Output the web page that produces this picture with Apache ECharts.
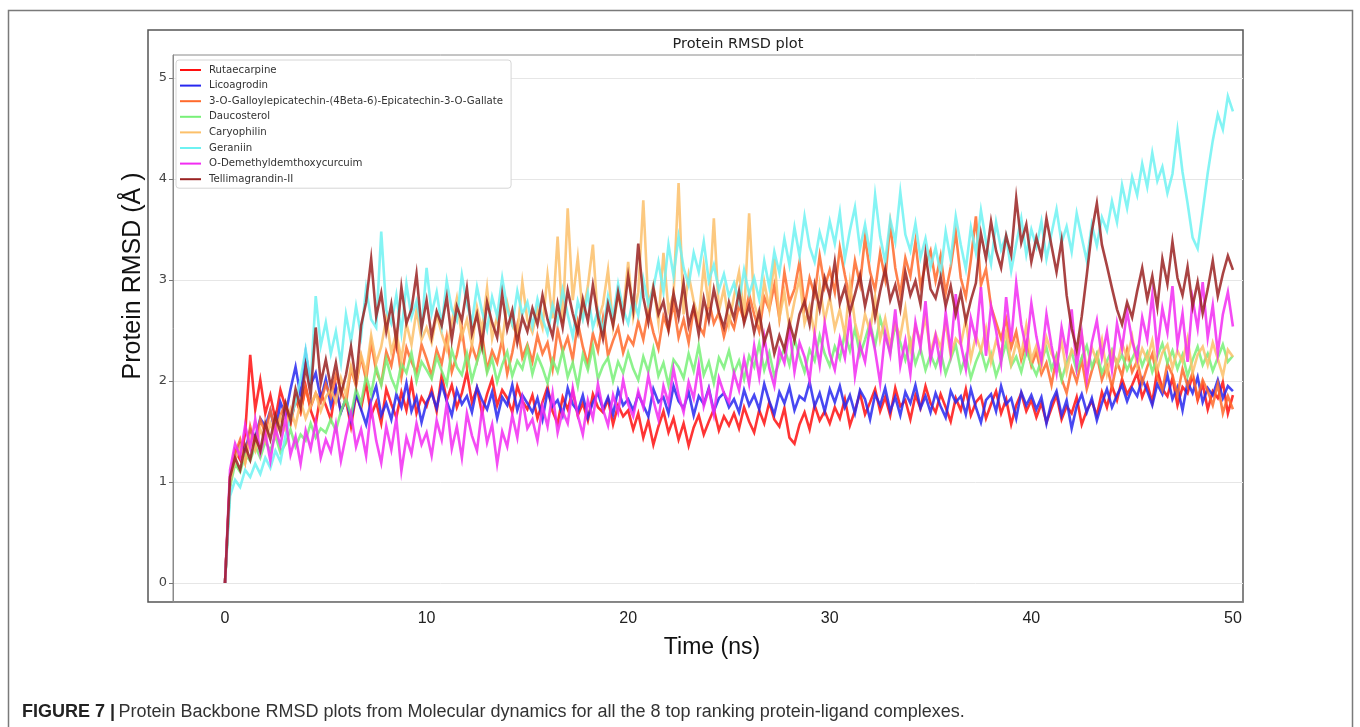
<!DOCTYPE html>
<html>
<head>
<meta charset="UTF-8">
<title>Protein RMSD plot</title>
<script type="text/javascript" src="https://cdn.jsdelivr.net/npm/echarts@6/dist/echarts.min.js"></script>
<style>
  html, body { margin: 0; padding: 0; background: #fff; }
  #rmsd { width: 1360px; height: 727px; }
</style>
</head>
<body>
<div id="rmsd"></div>
<script type="text/javascript">
// frames are read every 0.25 ns, from 0 to 50 ns
var timeStepNs = 0.25;
var xTicks = [0, 10, 20, 30, 40, 50];
var yTicks = [0, 1, 2, 3, 4, 5];

var names = ['Rutaecarpine', 'Licoagrodin', '3-O-Galloylepicatechin-(4Beta-6)-Epicatechin-3-O-Gallate',
  'Daucosterol', 'Caryophilin', 'Geraniin', 'O-Demethyldemthoxycurcuim', 'Tellimagrandin-II'];
var colors = ['#ff1010', '#2828f0', '#ff6a2c', '#78f078', '#fcc06a', '#6ef2f2', '#f22cf2', '#9a2222'];

var rutaecarpine = [0,
  1.02,1.31,1.22,1.48,2.26,1.72,2.01,1.68,1.86,1.62,1.91,1.74,1.58,1.83,1.69,1.95,1.71,1.57,1.88,1.76,
  1.62,1.94,1.70,1.81,1.55,1.86,1.73,1.98,1.66,1.79,1.58,1.92,1.77,1.64,1.89,1.71,1.99,1.68,1.84,1.75,
  1.92,1.70,2.06,1.81,1.96,1.74,1.88,2.09,1.79,1.93,1.68,1.87,2.02,1.76,1.91,1.83,1.69,1.95,1.80,1.72,
  1.86,1.63,1.79,1.94,1.70,1.58,1.84,1.72,1.90,1.66,1.78,1.61,1.87,1.74,1.69,1.82,1.57,1.76,1.65,1.71,
  1.52,1.68,1.44,1.61,1.37,1.55,1.70,1.49,1.63,1.42,1.58,1.36,1.54,1.66,1.47,1.60,1.72,1.51,1.65,1.56,
  1.68,1.53,1.74,1.60,1.49,1.71,1.58,1.79,1.62,1.55,1.73,1.44,1.38,1.57,1.69,1.52,1.76,1.61,1.70,1.58,
  1.74,1.63,1.82,1.56,1.71,1.88,1.67,1.79,1.92,1.70,1.84,1.66,1.93,1.75,1.81,1.62,1.86,1.73,1.95,1.78,
  1.69,1.87,1.74,1.60,1.83,1.71,1.92,1.66,1.79,1.85,1.63,1.77,1.90,1.68,1.82,1.57,1.76,1.88,1.70,1.81,
  1.64,1.78,1.59,1.73,1.86,1.62,1.75,1.68,1.84,1.57,1.71,1.80,1.66,1.89,1.74,1.95,1.81,2.02,1.87,1.96,
  2.08,1.84,1.97,1.79,2.11,1.92,1.85,2.03,1.76,1.94,1.88,2.06,1.81,1.97,1.72,1.90,1.83,1.99,1.68,1.86];

var licoagrodin = [0,
  0.98,1.25,1.38,1.30,1.52,1.44,1.63,1.55,1.71,1.48,1.79,1.66,1.92,2.14,1.85,2.28,1.96,2.08,1.82,2.02,
  1.76,1.94,1.69,1.83,1.61,1.88,1.72,1.57,1.81,1.95,1.66,1.78,1.62,1.87,1.74,1.98,1.70,1.84,1.59,1.79,
  1.88,1.73,1.97,1.80,1.66,1.91,1.77,1.85,1.69,1.94,1.81,1.72,1.89,1.63,1.84,1.76,1.96,1.71,1.86,1.78,
  1.69,1.83,1.62,1.90,1.75,1.81,1.66,1.93,1.77,1.70,1.86,1.64,1.79,1.88,1.72,1.84,1.67,1.91,1.76,1.82,
  1.71,1.87,1.76,1.65,1.92,1.79,1.84,1.68,1.95,1.80,1.73,1.89,1.66,1.85,1.77,1.93,1.70,1.83,1.88,1.74,
  1.82,1.69,1.91,1.76,1.86,1.72,1.97,1.80,1.67,1.89,1.78,1.94,1.71,1.85,1.81,1.99,1.75,1.88,1.70,1.92,
  1.79,1.95,1.74,1.86,1.68,1.91,1.82,1.62,1.87,1.76,1.93,1.70,1.84,1.66,1.89,1.78,1.96,1.73,1.85,1.69,
  1.88,1.75,1.64,1.90,1.79,1.85,1.67,1.92,1.74,1.59,1.81,1.87,1.70,1.95,1.77,1.83,1.63,1.89,1.76,1.86,
  1.72,1.84,1.58,1.79,1.90,1.66,1.81,1.53,1.75,1.87,1.69,1.83,1.61,1.78,1.92,1.74,1.86,1.96,1.80,1.93,
  1.85,2.02,1.90,1.76,1.97,1.87,2.06,1.82,1.94,1.71,1.99,1.88,2.04,1.79,1.93,1.86,2.01,1.83,1.95,1.90];

var galloylepicatechin = [0,
  1.05,1.28,1.42,1.20,1.55,1.36,1.62,1.48,1.71,1.50,1.66,1.78,1.58,1.82,1.69,1.93,1.74,1.88,1.79,1.97,
  1.84,2.06,1.91,1.78,2.12,1.95,2.24,2.01,2.38,2.10,1.97,2.29,2.15,2.42,2.04,2.33,2.19,2.08,2.36,2.22,
  2.05,2.31,2.17,2.44,2.09,2.26,2.52,2.14,2.35,2.20,2.47,2.11,2.30,2.18,2.41,2.07,2.28,2.55,2.23,2.36,
  2.19,2.45,2.27,2.38,2.12,2.51,2.29,2.43,2.21,2.58,2.34,2.16,2.47,2.30,2.62,2.25,2.40,2.53,2.28,2.44,
  2.36,2.59,2.41,2.70,2.48,2.32,2.64,2.50,2.77,2.43,2.61,2.38,2.72,2.55,2.46,2.80,2.57,2.68,2.44,2.63,
  2.52,2.75,2.60,2.86,2.66,2.49,2.83,2.71,2.95,2.62,3.08,2.78,2.91,3.18,2.74,3.02,2.85,3.24,2.93,3.10,
  2.88,3.32,3.05,2.81,3.19,2.96,3.42,3.08,2.90,3.27,3.01,3.55,3.12,2.86,3.22,3.04,3.38,2.94,3.15,3.29,
  2.99,3.24,2.87,3.13,3.47,3.02,2.83,3.20,3.63,2.95,3.11,2.74,2.58,2.42,2.61,2.33,2.49,2.21,2.38,2.15,
  2.29,2.07,2.18,1.96,2.24,2.02,1.88,2.13,1.99,2.21,1.92,2.10,2.26,2.01,2.15,1.94,2.19,2.05,2.31,2.09,
  2.20,1.98,2.14,2.27,2.03,1.91,2.17,2.06,1.86,2.12,1.95,2.08,1.83,2.01,1.90,1.76,1.97,1.68,1.85,1.72];

var daucosterol = [0,
  0.95,1.18,1.10,1.27,1.21,1.36,1.24,1.40,1.31,1.46,1.29,1.38,1.52,1.35,1.47,1.41,1.58,1.44,1.53,1.49,
  1.62,1.51,1.70,1.83,1.66,1.92,1.78,2.05,1.87,2.14,1.96,2.22,2.03,1.91,2.17,2.08,2.28,2.00,2.19,2.11,
  2.02,2.24,2.10,1.97,2.31,2.14,2.06,2.27,2.01,2.19,2.36,2.08,2.22,1.99,2.16,2.29,2.05,2.20,2.12,2.33,
  2.07,2.25,2.13,1.98,2.21,2.09,2.30,2.04,2.18,1.95,2.26,2.11,2.34,2.02,2.15,2.23,2.00,2.19,2.08,2.28,
  2.12,2.01,2.24,2.09,2.32,2.05,2.18,1.96,2.21,2.14,2.03,2.27,2.10,2.35,2.06,2.19,1.98,2.23,2.13,2.30,
  2.08,2.20,2.02,2.25,2.14,2.37,2.11,2.28,2.05,2.19,2.33,2.16,2.42,2.24,2.09,2.31,2.20,2.45,2.27,2.15,
  2.34,2.22,2.47,2.30,2.52,2.26,2.41,2.58,2.35,2.62,2.44,2.29,2.55,2.38,2.21,2.40,2.17,2.32,2.11,2.26,
  2.14,2.29,2.07,2.22,2.36,2.10,2.25,2.03,2.19,2.31,2.12,2.27,2.05,2.20,2.38,2.15,2.24,2.09,2.30,2.17,
  2.06,2.21,2.33,2.12,2.25,2.01,2.18,2.29,2.10,2.23,2.35,2.14,2.27,2.08,2.20,2.31,2.16,2.26,2.11,2.22,
  2.33,2.15,2.28,2.09,2.24,2.37,2.18,2.30,2.12,2.26,2.05,2.21,2.34,2.16,2.27,2.10,2.23,2.36,2.19,2.25];

var caryophilin = [0,
  1.00,1.22,1.35,1.19,1.44,1.31,1.52,1.40,1.58,1.45,1.64,1.51,1.72,1.56,1.80,1.63,1.76,1.88,1.70,1.84,
  1.92,1.79,2.03,1.86,2.15,1.97,2.26,2.08,2.45,2.18,2.34,2.62,2.29,2.48,2.21,2.57,2.36,2.70,2.41,2.53,
  2.38,2.66,2.47,2.31,2.58,2.82,2.44,2.61,2.35,2.73,2.50,2.92,2.42,2.64,2.39,2.77,2.55,2.46,2.98,2.60,
  2.48,2.71,2.53,3.05,2.62,3.43,2.57,3.71,2.80,3.22,2.66,2.94,3.35,2.59,2.76,3.10,2.54,2.85,2.68,3.18,
  2.63,2.88,3.79,2.74,2.95,2.58,3.27,2.70,2.86,3.96,2.66,3.05,2.79,2.61,3.14,2.73,3.61,2.69,2.92,2.56,
  2.84,3.08,2.65,3.66,2.77,2.59,2.98,2.71,3.21,2.62,2.88,2.53,2.79,3.02,2.57,2.74,2.46,2.95,2.60,2.83,
  2.52,2.71,2.45,2.97,2.58,2.38,2.66,2.49,2.83,2.41,2.62,2.35,2.57,2.44,2.72,2.31,2.54,2.39,2.63,2.28,
  2.47,2.33,2.58,2.25,2.42,2.36,2.61,2.22,2.45,2.30,2.52,2.19,2.40,2.28,2.49,2.17,2.38,2.26,2.55,2.21,
  2.35,2.14,2.43,2.27,2.18,2.39,2.09,2.31,2.24,2.46,2.12,2.33,2.20,2.41,2.07,2.29,2.16,2.37,2.23,2.44,
  2.15,2.32,2.21,2.40,2.11,2.28,2.36,2.13,2.30,2.19,2.42,2.08,2.26,2.34,2.16,2.38,2.22,2.05,2.31,2.24];

var geraniin = [0,
  0.86,1.02,0.95,1.12,1.05,1.18,1.08,1.24,1.14,1.31,1.20,1.46,1.63,1.79,2.02,2.31,1.98,2.84,2.35,2.58,
  2.27,2.49,2.18,2.66,2.39,2.74,2.45,2.92,2.61,2.53,3.48,2.70,2.57,2.85,2.48,2.96,2.63,2.79,2.52,3.12,
  2.67,2.88,2.55,2.99,2.71,2.60,3.05,2.76,2.58,2.93,2.69,2.51,2.83,2.64,3.02,2.72,2.56,2.89,2.66,2.78,
  2.54,2.81,2.62,2.47,2.75,2.58,2.90,2.66,2.44,2.79,2.61,2.87,2.53,2.70,2.49,2.84,2.63,2.96,2.71,2.57,
  2.82,2.65,3.01,2.76,2.92,3.18,2.88,3.35,3.04,3.43,3.12,2.95,3.27,3.08,3.38,2.99,3.15,2.90,3.06,2.84,
  2.97,2.78,3.10,2.86,3.02,2.81,3.19,2.93,3.28,3.07,3.41,3.15,3.52,3.24,3.63,3.33,3.18,3.47,3.29,3.58,
  3.36,3.67,3.21,3.49,3.72,3.31,3.55,3.26,3.84,3.43,3.18,3.60,3.38,3.87,3.45,3.29,3.56,3.22,3.41,3.13,
  3.32,3.06,3.48,3.20,3.63,3.35,3.11,3.52,3.27,3.69,3.38,3.16,3.57,3.30,3.44,3.09,3.36,3.61,3.25,3.50,
  3.33,3.58,3.21,3.46,3.70,3.37,3.53,3.28,3.66,3.42,3.19,3.55,3.34,3.62,3.49,3.78,3.57,3.94,3.71,4.02,
  3.84,4.15,3.92,4.26,3.98,4.12,3.86,4.05,4.48,4.07,3.76,3.42,3.31,3.68,4.06,4.38,4.64,4.49,4.82,4.67];

var demethyldemthoxycurcuim = [0,
  1.12,1.38,1.25,1.56,1.34,1.62,1.29,1.48,1.21,1.53,1.36,1.64,1.27,1.45,1.18,1.51,1.33,1.59,1.24,1.42,
  1.30,1.57,1.21,1.46,1.68,1.35,1.52,1.26,1.74,1.41,1.19,1.55,1.32,1.63,1.11,1.44,1.28,1.58,1.37,1.49,
  1.26,1.61,1.42,1.78,1.33,1.55,1.24,1.68,1.46,1.31,1.72,1.39,1.57,1.18,1.50,1.35,1.66,1.44,1.82,1.53,
  1.62,1.41,1.75,1.55,1.88,1.49,1.70,1.58,1.93,1.66,1.47,1.81,1.63,1.97,1.72,1.56,1.86,1.69,2.01,1.77,
  1.65,1.90,1.74,2.05,1.81,1.62,1.95,1.78,2.12,1.86,1.69,1.99,1.83,2.16,1.75,1.92,1.67,2.03,1.88,1.79,
  2.08,1.91,2.22,1.97,2.35,2.04,2.44,2.13,1.95,2.31,2.18,2.52,2.09,2.38,2.24,2.01,2.46,2.16,2.57,2.27,
  2.11,2.42,2.23,2.64,2.05,2.36,2.19,2.55,2.30,1.98,2.48,2.26,2.71,2.15,2.40,2.07,2.58,2.33,2.79,2.21,
  2.45,2.14,2.68,2.29,2.86,2.37,2.12,2.62,2.41,2.93,2.25,2.74,2.50,2.18,2.83,2.39,2.97,2.56,2.31,2.77,
  2.44,2.20,2.66,2.35,2.08,2.53,2.27,2.71,2.14,2.47,2.02,2.38,2.60,2.23,2.49,2.11,2.57,2.32,2.69,2.40,
  2.22,2.63,2.41,2.85,2.30,2.72,2.48,2.94,2.36,2.67,2.19,2.81,2.52,2.98,2.43,2.75,2.28,2.66,2.88,2.54];

var tellimagrandin = [0,
  1.05,1.24,1.12,1.36,1.22,1.45,1.31,1.58,1.42,1.66,1.49,1.78,1.61,1.92,1.74,2.15,1.86,2.53,1.98,2.21,
  1.94,2.18,1.87,2.06,2.34,1.99,2.55,2.78,3.21,2.64,2.87,2.49,2.76,2.38,2.93,2.57,2.71,3.06,2.52,2.80,
  2.44,2.69,2.55,2.83,2.41,2.74,2.60,2.92,2.47,2.66,2.35,2.78,2.58,2.43,2.86,2.51,2.70,2.38,2.63,2.49,
  2.72,2.56,2.85,2.61,2.44,2.77,2.53,2.90,2.67,2.48,2.81,2.59,2.95,2.64,2.42,2.76,2.55,2.88,2.62,3.04,
  2.71,3.36,2.83,2.58,2.92,2.66,2.79,2.51,2.87,2.63,2.97,2.55,2.74,2.46,2.82,2.60,2.91,2.68,2.53,2.78,
  2.62,2.89,2.57,2.75,2.48,2.69,2.38,2.54,2.27,2.45,2.31,2.58,2.40,2.66,2.79,2.56,2.95,2.71,3.02,2.84,
  3.18,2.77,2.93,2.68,2.86,3.05,2.74,2.97,2.63,2.89,3.11,2.80,2.95,2.71,3.08,2.85,2.99,2.76,3.26,2.91,
  2.82,3.03,2.74,2.94,2.66,2.88,2.59,2.80,2.97,3.46,3.21,3.58,3.29,3.12,3.44,3.25,3.81,3.37,3.55,3.18,
  3.42,3.23,3.61,3.34,3.08,3.39,2.85,2.52,2.31,2.64,3.05,3.48,3.76,3.35,3.14,2.92,2.71,2.56,2.78,2.63,
  2.89,3.12,2.81,3.04,2.73,3.21,2.96,3.38,3.02,2.85,3.13,2.74,2.98,2.67,2.91,3.19,2.84,3.06,3.24,3.10];

var rmsdSets = [rutaecarpine, licoagrodin, galloylepicatechin, daucosterol,
  caryophilin, geraniin, demethyldemthoxycurcuim, tellimagrandin];

var myChart = echarts.init(document.getElementById('rmsd'));

var series = rmsdSets.map(function (vals, k) {
  return {
    name: names[k],
    type: 'line',
    showSymbol: false,
    symbol: 'none',
    animation: false,
    lineStyle: { width: 2.6, color: colors[k], opacity: 0.85, join: 'miter' },
    itemStyle: { color: colors[k] },
    data: vals.map(function (v, i) { return [i * timeStepNs, v]; })
  };
});

var option = {
  backgroundColor: '#fff',
  animation: false,
  grid: {
    left: 173, top: 55, width: 1070, height: 547,
    show: true, borderColor: '#8a8a8a', borderWidth: 1, backgroundColor: 'transparent'
  },
  legend: {
    orient: 'vertical',
    left: 176, top: 60,
    icon: 'rect',
    itemWidth: 21, itemHeight: 2,
    itemGap: 5.6,
    padding: [5, 8, 4, 4],
    backgroundColor: '#fff',
    borderColor: '#d6d6d6', borderWidth: 1, borderRadius: 3,
    textStyle: { fontFamily: 'DejaVu Sans', fontSize: 10.2, color: '#333', padding: [0, 0, 0, 3] },
    data: names
  },
  xAxis: {
    type: 'value',
    min: -2.58, max: 50.5,
    axisLine: { show: true, onZero: false, lineStyle: { color: '#8a8a8a' } },
    axisTick: { show: false, customValues: xTicks },
    splitLine: { show: false },
    axisLabel: {
      customValues: xTicks,
      margin: 9,
      fontFamily: 'Liberation Sans', fontSize: 16, color: '#222'
    }
  },
  yAxis: {
    type: 'value',
    min: -0.188, max: 5.228,
    axisLine: { show: true, onZero: false, lineStyle: { color: '#8a8a8a' } },
    axisTick: { show: true, length: 4, customValues: yTicks, lineStyle: { color: '#777' } },
    splitLine: { show: true, lineStyle: { color: '#e6e6e6', width: 1 } },
    axisLabel: {
      customValues: yTicks,
      margin: 6,
      fontFamily: 'DejaVu Sans', fontSize: 13, color: '#444'
    }
  },
  graphic: [
    { type: 'rect', silent: true, z: -1,
      shape: { x: 8.5, y: 10.5, width: 1344, height: 760 },
      style: { fill: 'none', stroke: '#7a7a7a', lineWidth: 1.5 } },
    { type: 'rect', silent: true, z: -1,
      shape: { x: 148, y: 30, width: 1095, height: 572 },
      style: { fill: 'none', stroke: '#555', lineWidth: 1.5 } },
    { type: 'text', silent: true,
      x: 738, y: 44,
      style: { text: 'Protein RMSD plot', fontFamily: 'DejaVu Sans', fontSize: 14.5,
        fill: '#222', align: 'center', verticalAlign: 'middle' } },
    { type: 'text', silent: true,
      x: 133, y: 276, rotation: Math.PI / 2,
      style: { text: 'Protein RMSD (Å )', fontFamily: 'Liberation Sans', fontSize: 25,
        fill: '#111', align: 'center', verticalAlign: 'middle' } },
    { type: 'text', silent: true,
      x: 712, y: 648,
      style: { text: 'Time (ns)', fontFamily: 'Liberation Sans', fontSize: 23,
        fill: '#111', align: 'center', verticalAlign: 'middle' } },
    { type: 'text', silent: true,
      x: 22, y: 712,
      style: {
        text: '{b|FIGURE 7 |} {r|Protein Backbone RMSD plots from Molecular dynamics for all the 8 top ranking protein-ligand complexes.}',
        verticalAlign: 'middle',
        rich: {
          b: { fontFamily: 'Liberation Sans', fontSize: 18, fontWeight: 'bold', fill: '#222' },
          r: { fontFamily: 'Liberation Sans', fontSize: 18, fill: '#333' }
        }
      } }
  ],
  series: series
};

myChart.setOption(option);
</script>
</body>
</html>
